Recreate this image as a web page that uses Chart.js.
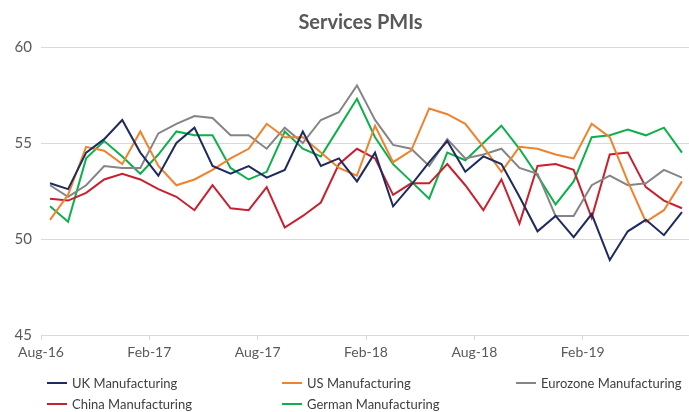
<!DOCTYPE html>
<html>
<head>
<meta charset="utf-8">
<script src="https://cdn.jsdelivr.net/npm/chart.js@4.4.0/dist/chart.umd.min.js"></script>
<style>
  html, body { margin: 0; padding: 0; background: #fff; overflow: hidden; }
  #wrap { position: relative; width: 689px; height: 412px; overflow: hidden; }
  #c { position: absolute; left: 0; top: 0; }
  .lg { position: absolute; height: 16px; display: flex; align-items: center;
        font: 13px Lato, sans-serif; color: #404040; white-space: nowrap; }
  .lg .sw { display: inline-block; width: 20px; height: 2px; margin-right: 5px; }
</style>
</head>
<body>
<div id="wrap">
  <canvas id="c" width="692" height="412"></canvas>
  <div id="legend"></div>
</div>
<script>
// Các tháng (Aug-16 -> Jul-19)
const months = ["Aug-16","Sep-16","Oct-16","Nov-16","Dec-16","Jan-17","Feb-17","Mar-17","Apr-17","May-17","Jun-17","Jul-17",
                "Aug-17","Sep-17","Oct-17","Nov-17","Dec-17","Jan-18","Feb-18","Mar-18","Apr-18","May-18","Jun-18","Jul-18",
                "Aug-18","Sep-18","Oct-18","Nov-18","Dec-18","Jan-19","Feb-19","Mar-19","Apr-19","May-19","Jun-19","Jul-19"];

// Nhãn trục x hiển thị
const tickLabels = ["Aug-16","Feb-17","Aug-17","Feb-18","Aug-18","Feb-19"];

// Dữ liệu từng chuỗi
const ukValues = [52.9,52.6,54.5,55.2,56.2,54.5,53.3,55.0,55.8,53.8,53.4,53.8,53.2,53.6,55.6,53.8,54.2,53.0,
                  54.5,51.7,52.8,54.0,55.1,53.5,54.3,53.9,52.2,50.4,51.2,50.1,51.3,48.9,50.4,51.0,50.2,51.4];
const usValues = [51.0,52.3,54.8,54.6,53.9,55.6,53.8,52.8,53.1,53.6,54.2,54.7,56.0,55.3,55.3,54.5,53.7,53.3,
                  55.9,54.0,54.6,56.8,56.5,56.0,54.8,53.5,54.8,54.7,54.4,54.2,56.0,55.3,53.0,50.9,51.5,53.0];
const euroValues = [52.8,52.2,52.8,53.8,53.7,53.7,55.5,56.0,56.4,56.3,55.4,55.4,54.7,55.8,55.0,56.2,56.6,58.0,
                    56.2,54.9,54.7,53.8,55.2,54.2,54.4,54.7,53.7,53.4,51.2,51.2,52.8,53.3,52.8,52.9,53.6,53.2];
const chinaValues = [52.1,52.0,52.4,53.1,53.4,53.1,52.6,52.2,51.5,52.8,51.6,51.5,52.7,50.6,51.2,51.9,53.9,54.7,
                     54.2,52.3,52.9,52.9,53.9,52.8,51.5,53.1,50.8,53.8,53.9,53.6,51.1,54.4,54.5,52.7,52.0,51.6];
const germanValues = [51.7,50.9,54.2,55.1,54.3,53.4,54.4,55.6,55.4,55.4,53.7,53.1,53.5,55.6,54.7,54.3,55.8,57.3,
                      55.3,53.9,53.0,52.1,54.5,54.1,55.0,55.9,54.7,53.3,51.8,53.0,55.3,55.4,55.7,55.4,55.8,54.5];

const yTicks = [45, 50, 55, 60];

const series = [
  { label: "UK Manufacturing", data: ukValues, color: "#1f2a5e" },
  { label: "US Manufacturing", data: usValues, color: "#f0822e" },
  { label: "Eurozone Manufacturing", data: euroValues, color: "#858585" },
  { label: "China Manufacturing", data: chinaValues, color: "#c8202e" },
  { label: "German Manufacturing", data: germanValues, color: "#0db04b" },
];

// Chú thích dạng lưới (HTML)
const legendPos = [[47, 375], [282, 375], [516, 375], [47, 396], [282, 396]];
const legendEl = document.getElementById("legend");
series.forEach(function (s, i) {
  const d = document.createElement("div");
  d.className = "lg";
  d.style.left = legendPos[i][0] + "px";
  d.style.top = legendPos[i][1] + "px";
  d.innerHTML = '<span class="sw" style="background:' + s.color + '"></span>' + s.label;
  legendEl.appendChild(d);
});

const gridColor = "#d9d9d9";
const textColor = "#595959";

// Dời tiêu đề sang phải một chút như hình gốc
const titleShift = {
  id: "titleShift",
  afterLayout: function (chart) {
    if (chart.titleBlock) chart.titleBlock.left += 30;
  },
};

new Chart(document.getElementById("c"), {
  type: "line",
  data: {
    datasets: series.map(function (s) {
      return {
        label: s.label,
        data: s.data.map(function (v, i) { return { x: i, y: v }; }),
        borderColor: s.color,
        backgroundColor: s.color,
        borderWidth: 2,
        pointRadius: 0,
        tension: 0,
      };
    }),
  },
  plugins: [titleShift],
  options: {
    responsive: false,
    animation: false,
    layout: { padding: { top: 0, left: 0, right: 1, bottom: 37 } },
    plugins: {
      legend: { display: false },
      tooltip: { enabled: false },
      title: {
        display: true,
        text: "Services PMIs",
        color: textColor,
        font: { family: "Lato", size: 20, weight: "bold" },
        padding: { top: 11, bottom: 12 },
      },
    },
    scales: {
      x: {
        type: "linear",
        min: -0.5,
        max: months.length - 0.5,
        afterBuildTicks: function (axis) {
          axis.ticks = tickLabels.map(function (t) {
            return { value: months.indexOf(t) - 0.5 };
          });
        },
        afterFit: function (axis) { axis.height = 40; },
        ticks: {
          autoSkip: false,
          maxRotation: 0,
          padding: 4,
          color: textColor,
          font: { family: "Lato", size: 14 },
          callback: function (value) { return months[Math.round(value + 0.5)]; },
        },
        grid: { drawOnChartArea: false, drawTicks: true, tickLength: 5, color: gridColor },
        border: { color: gridColor },
      },
      y: {
        min: 45,
        max: 60,
        afterBuildTicks: function (axis) {
          axis.ticks = yTicks.map(function (v) { return { value: v }; });
        },
        afterFit: function (axis) { axis.width = 41; },
        ticks: {
          padding: 9,
          color: textColor,
          font: { family: "Lato", size: 15 },
        },
        grid: { color: gridColor, drawTicks: false },
        border: { display: false },
      },
    },
  },
});
</script>
</body>
</html>
